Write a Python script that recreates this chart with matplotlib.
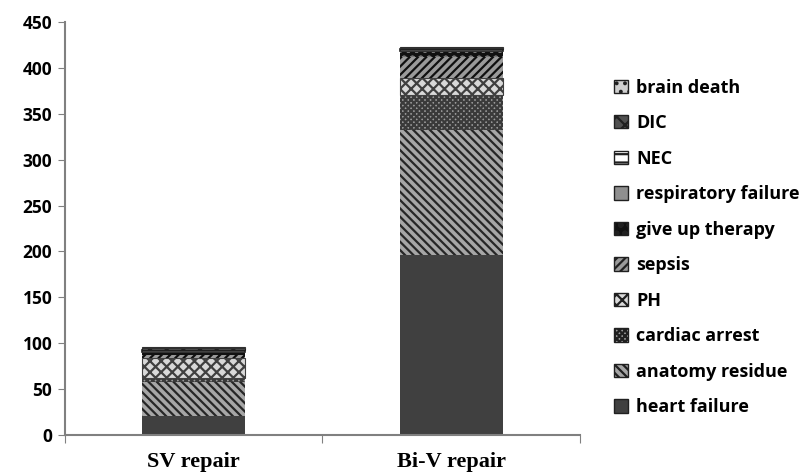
import numpy as np
import matplotlib
matplotlib.use("Agg")
import matplotlib.pyplot as plt

groups = ["SV repair", "Bi-V repair"]

# causes of death, stacked bottom to top
causes = ["heart failure", "anatomy residue", "cardiac arrest", "PH", "sepsis",
          "give up therapy", "respiratory failure", "NEC", "DIC", "brain death"]
sv_counts = [21, 37, 4, 22, 3, 2, 1, 3, 2, 1]
biv_counts = [196, 136, 38, 19, 23, 5, 1, 2, 2, 1]

# fill, hatch, hatch/edge colour, edge width per cause
styles = {
    "heart failure": ("#404040", None, "#404040", 0),
    "anatomy residue": ("#a6a6a6", "\\\\\\\\", "#262626", 0),
    "cardiac arrest": ("#9a9a9a", "xxxxxx", "#3a3a3a", 0),
    "PH": ("#d9d9d9", "xxx", "#404040", 0.8),
    "sepsis": ("#9a9a9a", "////", "#101010", 0),
    "give up therapy": ("#111111", "oo", "#777777", 0),
    "respiratory failure": ("#8f8f8f", None, "#8f8f8f", 0),
    "NEC": ("#ffffff", "--", "#202020", 1.2),
    "DIC": ("#505050", "xx", "#202020", 0.8),
    "brain death": ("#d0d0d0", "..", "#303030", 0.8),
}

plt.rcParams["hatch.linewidth"] = 1.6

fig = plt.figure(figsize=(8.1, 4.74), dpi=100)
ax = fig.add_axes([0.080, 0.082, 0.636, 0.872])

x = np.arange(len(groups))
bottom = np.zeros(len(groups))
handles = []
for i, cause in enumerate(causes):
    vals = np.array([sv_counts[i], biv_counts[i]])
    fc, hatch, hc, lw = styles[cause]
    bars = ax.bar(x, vals, width=0.4, bottom=bottom, color=fc, hatch=hatch,
                  edgecolor=hc, linewidth=lw, label=cause)
    handles.append(bars)
    bottom += vals

ax.set_xlim(-0.5, 1.5)
ax.set_ylim(0, 450)
ax.set_yticks(range(0, 451, 50))
ax.set_xticks([-0.5, 0.5, 1.5])
ax.set_xticklabels([])
ax.set_xticks(x, minor=True)
ax.set_xticklabels(groups, minor=True, fontfamily="Liberation Serif",
                   fontweight="bold", fontsize=16)
ax.tick_params(axis="x", which="minor", length=0, pad=12)
ax.tick_params(axis="x", which="major", length=6, color="#808080", direction="out")
ax.tick_params(axis="y", length=5, color="#808080", labelsize=12.5, pad=4)
for lbl in ax.get_yticklabels():
    lbl.set_fontweight("bold")
    lbl.set_fontfamily("Open Sans")

for side in ["top", "right"]:
    ax.spines[side].set_visible(False)
for side in ["left", "bottom"]:
    ax.spines[side].set_color("#808080")
    ax.spines[side].set_linewidth(1.5)

leg = ax.legend(handles[::-1], causes[::-1], loc="center left",
                bbox_to_anchor=(1.035, 0.454), frameon=False,
                prop={"family": "Open Sans", "weight": "bold", "size": 13},
                handlelength=0.75, handleheight=0.75, handletextpad=0.45,
                labelspacing=0.97)
for patch in leg.get_patches():
    patch.set_linewidth(1.0)
    patch.set_edgecolor("#202020")

fig.savefig("out.png", dpi=100)
